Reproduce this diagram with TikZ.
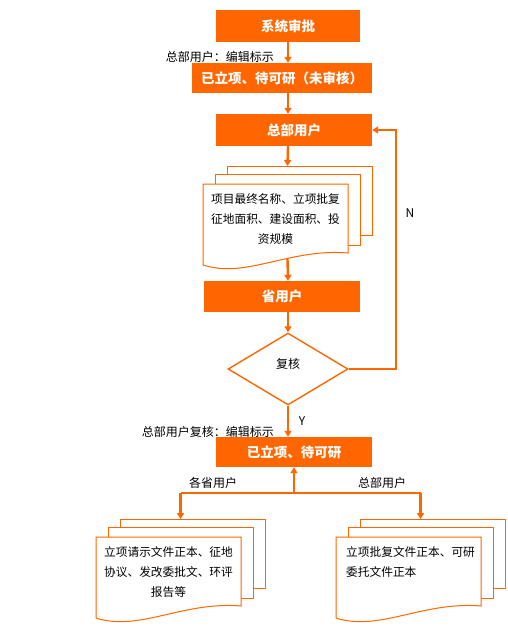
\documentclass[tikz,border=0pt]{standalone}
\usepackage{fontspec}
\setmainfont{Noto Sans CJK SC}
\usetikzlibrary{shapes.geometric,arrows.meta}
\definecolor{flow}{HTML}{FF6600}

\tikzstyle{box} = [rectangle, fill=flow, text=white, font=\fontsize{13.5}{16}\selectfont\bfseries, inner sep=0pt]
\tikzstyle{check} = [diamond, draw=flow, line width=1.4pt, fill=white, aspect=1.667, minimum width=120pt, minimum height=72pt, inner sep=0pt, font=\fontsize{12}{14}\selectfont]
\tikzstyle{sheet} = [draw=flow, line width=1pt, fill=white]
\tikzstyle{doctext} = [font=\fontsize{11.7}{20}\selectfont, inner sep=0pt]
\tikzstyle{lbl} = [font=\fontsize{12}{14}\selectfont, inner sep=0pt]
\tikzstyle{line} = [draw=flow, line width=2.4pt]
\tikzstyle{arrow} = [line, -{Triangle[length=6pt,width=7pt]}]

% three stacked sheets, #1 name, (#2,#3) top left corner of the front sheet
\newcommand{\docstack}[3]{%
  \begin{scope}[shift={(#2,#3)}]
    \draw[sheet] (24,-18) rectangle (169,51);
    \draw[sheet] (12,-10) rectangle (157,61);
    \draw[sheet] (0,81) -- (0,0) -- (145,0) -- (145,69)
      .. controls (87,64) and (43,95) .. (0,81);
    \coordinate (#1-top) at (84.5,-18);
    \coordinate (#1-bot) at (84.5,75);
  \end{scope}}

\begin{document}
\begin{tikzpicture}[x=1pt, y=-1pt]
\useasboundingbox (0,0) rectangle (507,634);
\coordinate (axis) at (288,0);

% main column
\node[box, minimum width=144pt, minimum height=32pt] (sys) at (288,26) {系统审批};
\node[box, minimum width=180pt, minimum height=30pt] (appr) at (282,78) {已立项、待可研（未审核）};
\node[box, minimum width=156pt, minimum height=32pt] (hq) at (294,130) {总部用户};
\docstack{info}{203}{184}
\node[doctext, align=center] (infotext) at (275.5,219) {项目最终名称、立项批复\\征地面积、建设面积、投\\资规模};
\node[box, minimum width=156pt, minimum height=31pt] (prov) at (282,296.5) {省用户};
\node[check] (review) at (288,369) {\raisebox{12pt}{复核}};
\node[box, minimum width=156pt, minimum height=30pt] (done) at (294,452) {已立项、待可研};

% document stacks at the bottom
\docstack{provdoc}{96}{537}
\node[doctext, align=center] (provtext) at (168.5,572) {立项请示文件正本、征地\\协议、发改委批文、环评\\报告等};
\docstack{hqdoc}{336}{537}
\node[doctext, align=left, anchor=west] (hqtext) at (346,562) {立项批复文件正本、可研\\委托文件正本};

% connectors
\draw[arrow] (sys.south) -- (sys.south |- appr.north);
\draw[arrow] (axis |- appr.south) -- (axis |- hq.north);
\draw[arrow] (axis |- hq.south) -- (info-top);
\draw[arrow] (info-bot) -- (axis |- prov.north);
\draw[arrow] (axis |- prov.south) -- (review.north);
\draw[arrow] (review.south) -- (axis |- done.north);
\coordinate (loop) at (396,369);
\draw[arrow] (review.east) -- (loop) -- (loop |- hq.east) -- (hq.east);
\coordinate (split) at (294,493);
\draw[arrow] (split) -- (done.south);
\draw[line] (provdoc-top |- split) -- (hqdoc-top |- split);
\draw[arrow] (provdoc-top |- split) -- (provdoc-top);
\draw[arrow] (hqdoc-top |- split) -- (hqdoc-top);

% labels
\node[lbl, anchor=east] (editlbl) at (274,57) {总部用户：编辑标示};
\node[lbl, anchor=east] (reviewlbl) at (274,432) {总部用户复核：编辑标示};
\node[lbl] (nlbl) at (410,213) {N};
\node[lbl] (ylbl) at (302,421) {Y};
\node[lbl] (provlbl) at (213,483) {各省用户};
\node[lbl] (hqlbl) at (382,483) {总部用户};
\end{tikzpicture}
\end{document}
